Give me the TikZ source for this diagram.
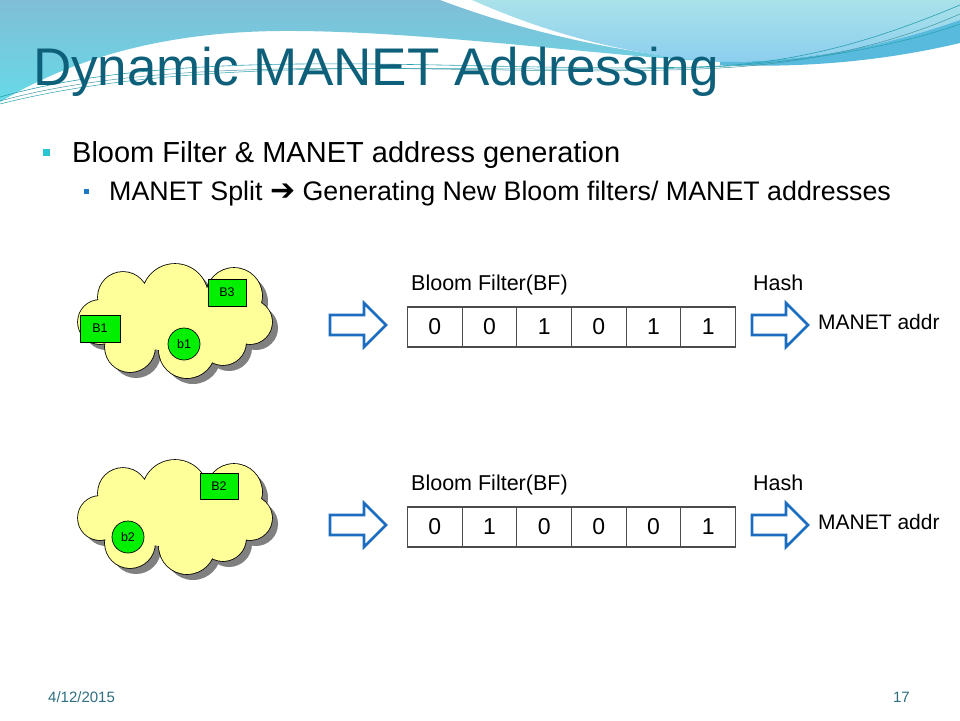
\documentclass[tikz,border=0pt]{standalone}
\usepackage{fontspec}
\setmainfont{Liberation Sans}
\newfontfamily\symfont{DejaVu Sans}
\usetikzlibrary{shadows}
\definecolor{titlecol}{RGB}{14,96,122}
\definecolor{footcol}{RGB}{45,110,128}
\definecolor{bulcyan}{RGB}{40,196,210}
\definecolor{bulblue}{RGB}{30,120,200}
\definecolor{arrowblue}{RGB}{28,108,192}
\definecolor{cloudyellow}{RGB}{255,255,153}
\definecolor{nodegreen}{RGB}{0,240,0}
\definecolor{tealtop}{RGB}{128,190,214}
\definecolor{tealbot}{RGB}{102,218,232}
\definecolor{lbluetop}{RGB}{170,226,234}
\definecolor{lbluebot}{RGB}{140,206,238}
\definecolor{bandblue}{RGB}{88,186,220}
\definecolor{swline}{RGB}{40,160,176}
\newcommand\mycloudlist{-53/-24/25, -1/-24/33, 58/-25/28, 74/1/22, 47/21/23, 11/29/28, -46/26/25, -76/1/22}
\tikzset{
  x=1pt, y=-1pt,
  txt/.style={inner sep=0pt, anchor=base west},
  cell/.style={draw=black!70, line width=1.2pt, minimum width=54.67pt, minimum height=40pt,
    inner sep=0pt, font=\fontsize{23}{25}\selectfont},
  gbox/.style={draw=black, line width=0.7pt, fill=nodegreen, inner sep=0pt,
    font=\fontsize{12.5}{13}\selectfont},
  gcirc/.style={gbox, circle, minimum size=32pt},
  barrow/.pic={
    \draw[draw=arrowblue, line width=2.6pt, fill=white, line join=miter]
      (0,-10) -- (34,-10) -- (34,-22) -- (56,0) -- (34,22) -- (34,10) -- (0,10) -- cycle;
  },
  cloudpic/.pic={
    \fill[black!50, shift={(6,6)}] (0,0) ellipse[x radius=65, y radius=30]
      foreach \cx/\cy/\cr in \mycloudlist {(\cx,\cy) circle[radius=\cr]};
    \draw[black, line width=1.6pt] (0,0) foreach \cx/\cy/\cr in \mycloudlist {(\cx,\cy) circle[radius=\cr]};
    \fill[cloudyellow] (0,0) ellipse[x radius=65, y radius=30]
      foreach \cx/\cy/\cr in \mycloudlist {(\cx,\cy) circle[radius=\cr]};
  }
}
\begin{document}
\begin{tikzpicture}
\useasboundingbox (0,0) rectangle (960,720);
\fill[white] (0,0) rectangle (960,720);
% header background
\shade[top color=tealtop, bottom color=tealbot]
  (0,0) -- (440,0) .. controls (520,30) and (610,52) .. (720,62)
  .. controls (600,56) and (420,30) .. (280,31)
  .. controls (160,32) and (70,60) .. (0,102) -- cycle;
\shade[top color=lbluetop, bottom color=lbluebot]
  (472,0) -- (960,0) -- (960,20) .. controls (880,48) and (800,62) .. (720,62)
  .. controls (620,55) and (540,30) .. (472,0) -- cycle;
\fill[bandblue]
  (720,62) .. controls (800,62) and (880,48) .. (960,20) -- (960,43)
  .. controls (880,62) and (800,68) .. (720,65) -- cycle;
\draw[swline, line width=0.6pt]
  (0,97) .. controls (200,40) and (500,76) .. (720,66) .. controls (820,60) and (900,30) .. (960,5);
\draw[swline!70!gray, line width=0.5pt]
  (0,101) .. controls (200,46) and (500,80) .. (720,68) .. controls (830,62) and (910,36) .. (960,14);
\draw[swline, line width=0.5pt]
  (0,104) .. controls (220,48) and (520,78) .. (730,66) .. controls (840,58) and (915,40) .. (960,24);
% title
\node[txt, text=titlecol, font=\fontsize{53}{55}\selectfont] (title) at (33,85) {Dynamic MANET Addressing};
% bullets
\node[fill=bulcyan, minimum size=7pt, inner sep=0pt] (bul1) at (46.5,152.5) {};
\node[txt, font=\fontsize{29}{31}\selectfont] (line1) at (72,162) {Bloom Filter \& MANET address generation};
\node[fill=bulblue, minimum size=5.5pt, inner sep=0pt] (bul2) at (86.5,191.5) {};
\node[txt, font=\fontsize{26.8}{28}\selectfont] (line2) at (109,200)
  {MANET Split {\symfont\bfseries\fontsize{30}{30}\selectfont ➔} Generating New Bloom filters/ MANET addresses};
% clouds
\pic at (176,321) {cloudpic};
\node[gbox, minimum width=40pt, minimum height=27pt] (B1) at (100,328.5) {B1};
\node[gbox, minimum width=38pt, minimum height=27pt] (B3) at (227,292.5) {B3};
\node[gcirc] (b1) at (184,344) {b1};
\pic at (176,517) {cloudpic};
\node[gbox, minimum width=38pt, minimum height=26pt] (B2) at (219,486) {B2};
\node[gcirc] (b2) at (128,537) {b2};
% block arrows
\pic at (330,325) {barrow};
\pic at (752,325) {barrow};
\pic at (330,525) {barrow};
\pic at (752,525) {barrow};
% labels
\node[txt, font=\fontsize{21.5}{23}\selectfont] (bf1) at (411,290) {Bloom Filter(BF)};
\node[txt, font=\fontsize{21.5}{23}\selectfont] (hash1) at (753,290) {Hash};
\node[txt, font=\fontsize{21}{23}\selectfont] (addr1) at (818,329) {MANET addr};
\node[txt, font=\fontsize{21.5}{23}\selectfont] (bf2) at (411,490) {Bloom Filter(BF)};
\node[txt, font=\fontsize{21.5}{23}\selectfont] (hash2) at (753,490) {Hash};
\node[txt, font=\fontsize{21}{23}\selectfont] (addr2) at (818,529) {MANET addr};
% tables
\foreach \v [count=\i from 0] in {0,0,1,0,1,1}
  \node[cell] (ta\i) at ({407.5+27.33+54.67*\i},327) {\v};
\foreach \v [count=\i from 0] in {0,1,0,0,0,1}
  \node[cell] (tb\i) at ({407.5+27.33+54.67*\i},527) {\v};
% footer
\node[txt, text=footcol, font=\fontsize{15}{16}\selectfont] (date) at (48,702) {4/12/2015};
\node[inner sep=0pt, anchor=base east, text=footcol, font=\fontsize{15}{16}\selectfont] (page) at (910,702) {17};
\end{tikzpicture}
\end{document}
